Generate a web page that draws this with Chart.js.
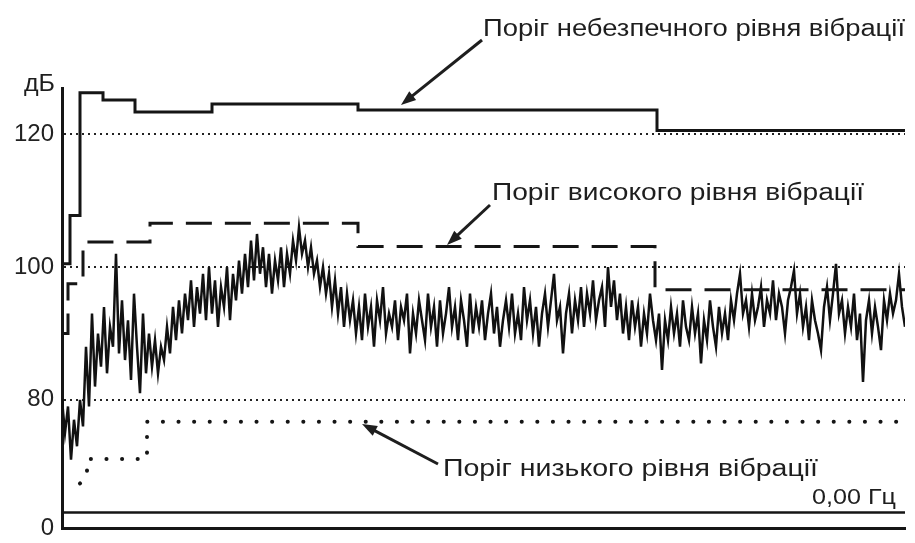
<!DOCTYPE html>
<html>
<head>
<meta charset="utf-8">
<script src="https://cdn.jsdelivr.net/npm/chart.js@4.4.1/dist/chart.umd.min.js"></script>
<style>
  html, body { margin: 0; padding: 0; background: #fff; }
  #wrap { width: 915px; height: 543px; position: relative; }
</style>
</head>
<body>
<div id="wrap"><canvas id="vibration"></canvas></div>
<script>
// y axis: dB, broken below ~64 dB so the 0 line sits just under the plot
const yTicks = [0, 80, 100, 120];
const yMax = 127;

// x runs in samples 0..843, no labels on the time axis
const xMax = 843;

// measured vibration level, one reading every 3 samples
const signalStep = 3;
const signal = [
  80, 75, 79, 71, 77, 73, 80, 76, 88, 79,
  93, 82, 90, 85, 94, 84, 91, 88, 102, 87,
  95, 86, 92, 83, 96, 88, 81, 93, 84, 90,
  85, 89, 84, 88, 86, 91, 87, 94, 89, 95,
  90, 96, 92, 98, 91, 97, 93, 99, 92, 100,
  93, 98, 91, 97, 94, 100, 92, 99, 95, 101,
  96, 102, 97, 104, 98, 105, 99, 103, 97, 102,
  96, 101, 98, 103, 97, 102, 99, 104, 101, 106,
  102, 104, 100, 103, 99, 101, 97, 100, 96, 99,
  94, 98, 93, 97, 91, 96, 92, 95, 90, 94,
  89, 96, 91, 94, 88, 95, 92, 97, 90, 93,
  91, 95, 89, 94, 92, 96, 87, 93, 90, 95,
  92, 89, 96, 91, 94, 88, 95, 90, 93, 97,
  91, 94, 89, 95, 92, 88, 96, 90, 94, 91,
  95, 89, 93, 96, 90, 94, 88, 92, 95, 91,
  96, 90, 93, 89, 97, 92, 95, 90, 94, 88,
  93, 96, 91, 95, 99, 92, 94, 87, 93, 96,
  90, 95, 92, 97, 91, 96, 93, 98, 92, 95,
  97, 91, 100, 94, 98, 92, 96, 90, 94, 89,
  95, 91, 94, 88, 93, 90, 96, 92, 89, 93,
  84.5, 92, 89, 94, 90, 93, 88, 95, 91, 89,
  94, 90, 93, 85.5, 92, 89, 95, 91, 88, 94,
  90, 93, 89, 95, 92, 96, 99, 93, 95, 91,
  96, 92, 94, 97, 91, 95, 93, 98, 92, 96,
  94, 90, 95, 97, 99.5, 93, 96, 91, 94, 89,
  95, 92, 90, 87.5, 94, 97, 92, 96, 100.5, 93,
  95, 90, 94, 91, 96, 89, 93, 82.7, 92, 95,
  90, 94, 91, 87.5, 95, 92, 96, 93, 95, 99,
  94, 91
];

// thresholds (step lines, value holds until the next x)
const dangerX = [0, 8, 18, 41, 73, 150, 296, 595, 843];
const dangerY = [100.5, 107.8, 126.3, 125.2, 123.4, 124.6, 123.7, 120.6, 120.6];
const highX = [0, 6, 21, 88, 296, 593, 843];
const highY = [90, 97.5, 103.8, 106.6, 103.1, 96.6, 96.6];
const lowX = [18, 25, 25, 85, 85, 838];
const lowY = [67.4, 68.5, 71.1, 71.1, 76.7, 76.7];

// frequency read-out line near the bottom
const zeroHzLevel = 45;
const zeroHzLabel = '0,00 Гц';

const BREAK = 64, LOW_FRAC = 0.05;
class BrokenScale extends Chart.LinearScale {
  toDecimal(v) {
    if (v <= BREAK) return v / BREAK * LOW_FRAC;
    return LOW_FRAC + (v - BREAK) / (this.max - BREAK) * (1 - LOW_FRAC);
  }
  getPixelForValue(v) {
    if (v === null || v === undefined || isNaN(v)) return NaN;
    return this.getPixelForDecimal(this.toDecimal(v));
  }
  getValueForPixel(p) {
    const d = this.getDecimalForPixel(p);
    if (d <= LOW_FRAC) return d / LOW_FRAC * BREAK;
    return BREAK + (d - LOW_FRAC) / (1 - LOW_FRAC) * (this.max - BREAK);
  }
}
BrokenScale.id = 'brokenLinear';
BrokenScale.defaults = Chart.LinearScale.defaults;
Chart.register(BrokenScale);

const pts = (xs, ys) => xs.map((x, i) => ({ x: x, y: ys[i] }));
const signalPts = signal.map((v, i) => ({ x: i * signalStep, y: v }));

function fitText(ctx, str, x, base, width, font) {
  ctx.save();
  ctx.font = font;
  const w = ctx.measureText(str).width;
  ctx.translate(x, base);
  ctx.scale(width / w, 1);
  ctx.fillText(str, 0, 0);
  ctx.restore();
}

function arrow(ctx, x1, y1, x2, y2) {
  const a = Math.atan2(y2 - y1, x2 - x1);
  const len = 15, half = 5.5;
  ctx.beginPath();
  ctx.moveTo(x1, y1);
  ctx.lineTo(x2 - Math.cos(a) * len * 0.7, y2 - Math.sin(a) * len * 0.7);
  ctx.stroke();
  ctx.beginPath();
  ctx.moveTo(x2, y2);
  ctx.lineTo(x2 - Math.cos(a) * len - Math.sin(a) * half, y2 - Math.sin(a) * len + Math.cos(a) * half);
  ctx.lineTo(x2 - Math.cos(a) * len + Math.sin(a) * half, y2 - Math.sin(a) * len - Math.cos(a) * half);
  ctx.closePath();
  ctx.fill();
}

const notes = {
  id: 'notes',
  afterDraw(chart) {
    const ctx = chart.ctx;
    ctx.save();
    ctx.fillStyle = '#1e1e1e';
    ctx.strokeStyle = '#1e1e1e';
    ctx.lineWidth = 3;
    ctx.textBaseline = 'alphabetic';
    const f = "23px 'Liberation Sans', Arial, sans-serif";
    fitText(ctx, 'Поріг небезпечного рівня вібрації', 483, 36, 422, f);
    fitText(ctx, 'Поріг високого рівня вібрації', 492, 200, 372, f);
    fitText(ctx, 'Поріг низького рівня вібрації', 443, 476, 375, f);
    fitText(ctx, zeroHzLabel, 812, 504, 84, "22px 'Liberation Sans', Arial, sans-serif");
    fitText(ctx, 'дБ', 24, 91, 31, "24px 'Liberation Sans', Arial, sans-serif");
    arrow(ctx, 482, 40, 401, 105);
    arrow(ctx, 490, 205, 447, 245);
    arrow(ctx, 438, 464, 362, 424);
    ctx.restore();
  }
};

new Chart(document.getElementById('vibration'), {
  type: 'line',
  data: {
    datasets: [
      {
        label: 'Поріг небезпечного рівня вібрації',
        data: pts(dangerX, dangerY),
        stepped: 'before',
        borderColor: '#151515',
        borderWidth: 3,
        pointRadius: 0,
        order: 1
      },
      {
        label: 'Поріг високого рівня вібрації',
        data: pts(highX, highY),
        stepped: 'before',
        borderColor: '#151515',
        borderWidth: 3,
        borderDash: [26, 13],
        pointRadius: 0,
        order: 1
      },
      {
        label: 'Поріг низького рівня вібрації',
        data: pts(lowX, lowY),
        borderColor: '#151515',
        borderWidth: 4,
        borderDash: [0.1, 15.5],
        borderCapStyle: 'round',
        pointRadius: 0,
        order: 1
      },
      {
        label: zeroHzLabel,
        data: pts([0, xMax], [zeroHzLevel, zeroHzLevel]),
        borderColor: '#151515',
        borderWidth: 2.5,
        pointRadius: 0,
        order: 2
      },
      {
        label: 'Рівень вібрації',
        data: signalPts,
        borderColor: '#111',
        borderWidth: 2.5,
        pointRadius: 0,
        tension: 0,
        order: 5
      }
    ]
  },
  options: {
    responsive: true,
    maintainAspectRatio: false,
    animation: false,
    layout: { padding: { top: 88, right: 10, bottom: 15, left: 0 } },
    plugins: { legend: { display: false }, tooltip: { enabled: false } },
    scales: {
      x: {
        type: 'linear',
        min: 0,
        max: xMax,
        ticks: { display: false },
        grid: { display: false, drawTicks: false },
        border: { display: true, color: '#151515', width: 3 },
        afterFit: (s) => { s.height = 0; }
      },
      y: {
        type: 'brokenLinear',
        min: 0,
        max: yMax,
        afterBuildTicks: (s) => { s.ticks = yTicks.map(v => ({ value: v })); },
        ticks: {
          padding: 8,
          color: '#222',
          font: { family: "'Liberation Sans', Arial, sans-serif", size: 24 },
          callback: (v) => String(v)
        },
        grid: {
          drawTicks: false,
          color: (c) => (c.tick && c.tick.value === 0) ? 'rgba(0,0,0,0)' : '#222',
          lineWidth: 2
        },
        // in v4 border.dash styles the grid lines; the axis line stays solid
        border: { display: true, color: '#151515', width: 3, dash: [2, 4] },
        // the "0" label may hang below the plot, don't let it shrink the area
        afterFit: (s) => { s.width = 62; s.paddingTop = 0; s.paddingBottom = 0; }
      }
    }
  },
  plugins: [notes]
});
</script>
</body>
</html>
